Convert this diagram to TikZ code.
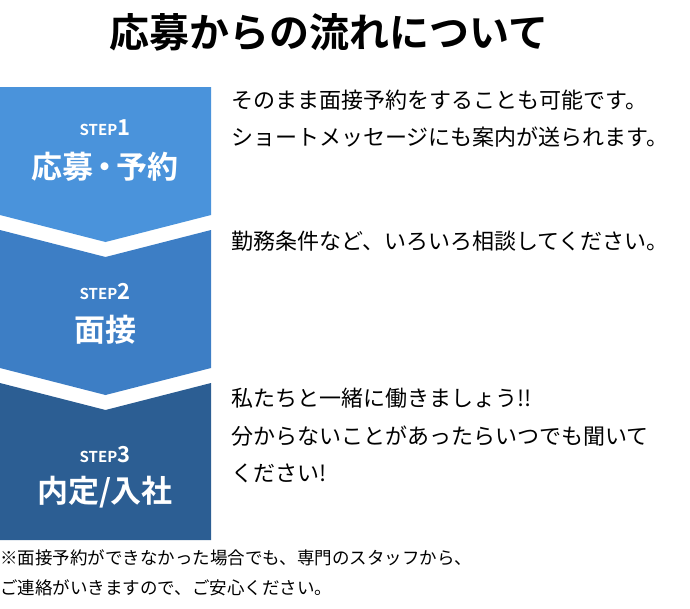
\documentclass[tikz,border=0pt]{standalone}
\usepackage{fontspec}
\setmainfont{Noto Sans CJK JP}
\newfontfamily\jpb{Noto Sans CJK JP Bold}
\begin{document}
\begin{tikzpicture}[x=1pt,y=-1pt,
  body/.style={anchor=west,font=\fontsize{22}{24}\selectfont,inner sep=0},
  steplbl/.style={text=white,font=\jpb\fontsize{15}{16}\selectfont,inner sep=0},
  stepname/.style={text=white,font=\jpb\fontsize{31}{33}\selectfont,inner sep=0}]
\useasboundingbox (0,0) rectangle (690,608);
\definecolor{b1}{HTML}{4A93DB}
\definecolor{b2}{HTML}{3D7EC5}
\definecolor{b3}{HTML}{2C5E93}
\node[font=\jpb\fontsize{40}{42}\selectfont,inner sep=0] (title) at (329,32) {応募からの流れについて};
\fill[b1] (0,87) -- (211,87) -- (211,215) -- (105.5,242) -- (0,215) -- cycle;
\fill[b2] (0,230) -- (105.5,257) -- (211,230) -- (211,368) -- (105.5,395) -- (0,368) -- cycle;
\fill[b3] (0,383) -- (105.5,410) -- (211,383) -- (211,540) -- (0,540) -- cycle;
\node[steplbl] (s1) at (105,128) {STEP\fontsize{22}{22}\selectfont 1};
\node[stepname] (n1) at (105,167) {応募\kern-4pt・\kern-4pt予約};
\node[steplbl] (s2) at (105,292) {STEP\fontsize{22}{22}\selectfont 2};
\node[stepname] (n2) at (105,330) {面接};
\node[steplbl] (s3) at (105,455) {STEP\fontsize{22}{22}\selectfont 3};
\node[stepname] (n3) at (105,492) {内定/入社};
\node[body] (t1) at (231,100) {そのまま面接予約をすることも可能です。};
\node[body] (t2) at (231,137) {ショートメッセージにも案内が送られます。};
\node[body] (t3) at (231,241) {勤務条件など、いろいろ相談してください。};
\node[body] (t4) at (231,398) {私たちと一緒に働きましょう!!};
\node[body] (t5) at (231,436) {分からないことがあったらいつでも聞いて};
\node[body] (t6) at (231,473) {ください!};
\node[body,font=\fontsize{17.5}{19}\selectfont] (f1) at (0,558) {※面接予約ができなかった場合でも、専門のスタッフから、};
\node[body,font=\fontsize{17.5}{19}\selectfont] (f2) at (0,588) {ご連絡がいきますので、ご安心ください。};
\end{tikzpicture}
\end{document}
